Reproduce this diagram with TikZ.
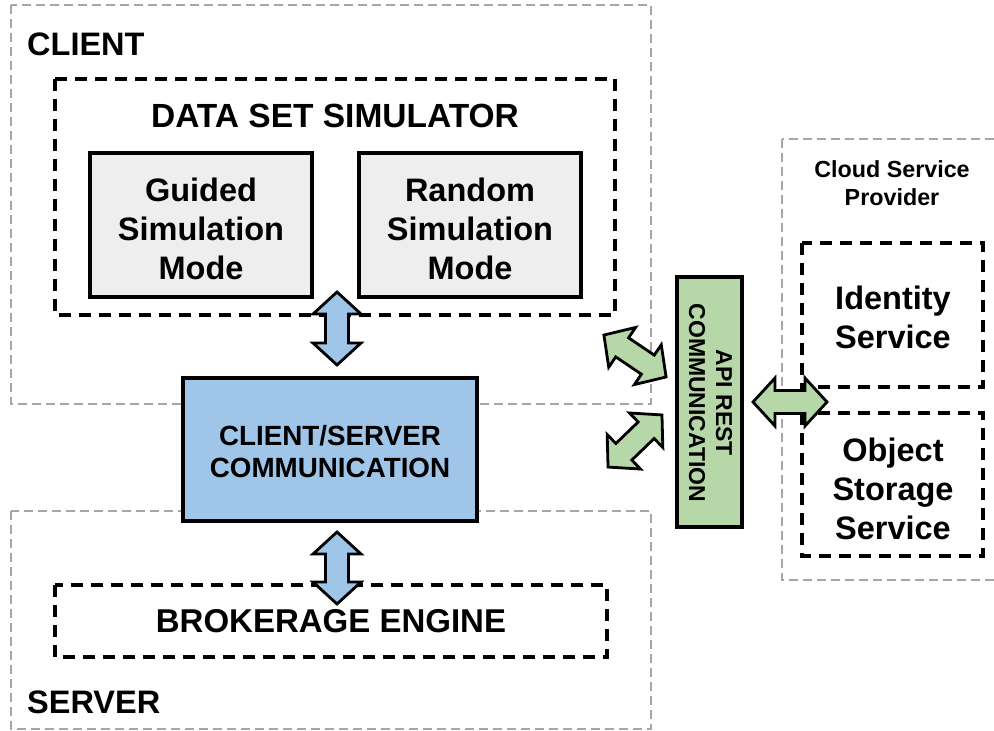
\documentclass[tikz,border=0pt]{standalone}
\usepackage{fontspec}
\setmainfont{Liberation Sans}
\begin{document}
\begin{tikzpicture}[x=1pt,y=-1pt,
  region/.style={draw=gray!70,line width=1.4pt,dash pattern=on 9pt off 5pt},
  group/.style={draw=black,line width=3.2pt,dash pattern=on 12pt off 8pt},
  solidbox/.style={draw=black,line width=3.2pt},
  lbl/.style={inner sep=0pt,align=center,font=\bfseries\fontsize{32.5}{39}\selectfont},
  blk/.style={draw=black,line width=2.8pt,line join=miter,fill=#1},
  blk/.default={blueA}]
\definecolor{blueA}{HTML}{9FC5E8}
\definecolor{greenA}{HTML}{B6D7A8}
\definecolor{grayA}{HTML}{EEEEEE}
\newcommand\blockarrow[4]{%
  \begin{scope}[shift={#2},rotate=#3]
    \draw[blk=#1] (-#4,0) -- (-#4+22,24) -- (-#4+22,11.5) -- (#4-22,11.5) -- (#4-22,24) -- (#4,0)
      -- (#4-22,-24) -- (#4-22,-11.5) -- (-#4+22,-11.5) -- (-#4+22,-24) -- cycle;
  \end{scope}}
\useasboundingbox (0,0) rectangle (994,731);
% regions
\draw[region] (11,5) rectangle (651,404);
\draw[region] (11,511) rectangle (651,729);
\draw[region] (782,139) rectangle (1000,580);
\node[lbl,anchor=base west] (client) at (27,55) {CLIENT};
\node[lbl,anchor=base west] (server) at (27,713) {SERVER};
\node[lbl,font=\bfseries\fontsize{23.3}{28}\selectfont] (csp) at (892,183) {Cloud Service\\Provider};
% data set simulator
\draw[group] (55,79) rectangle (615,315);
\node[lbl,font=\bfseries\fontsize{33.5}{39}\selectfont] (dss) at (335,116) {DATA SET SIMULATOR};
\node[solidbox,fill=grayA,minimum width=222pt,minimum height=144pt,inner sep=0pt] (guided) at (201,225) {};
\node[lbl] at (201,229) {Guided\\Simulation\\Mode};
\node[solidbox,fill=grayA,minimum width=222pt,minimum height=144pt,inner sep=0pt] (random) at (470,225) {};
\node[lbl] at (470,229) {Random\\Simulation\\Mode};
% brokerage
\draw[group] (55,585) rectangle (607,657);
\node[lbl,font=\bfseries\fontsize{33}{39}\selectfont] (broker) at (331,621) {BROKERAGE ENGINE};
% client/server
\node[solidbox,fill=blueA,minimum width=294pt,minimum height=143pt,inner sep=0pt] (cs) at (330,449.5) {};
\node[lbl,font=\bfseries\fontsize{27.8}{32}\selectfont] at (330,452) {CLIENT/SERVER\\COMMUNICATION};
% API REST
\node[solidbox,fill=greenA,minimum width=65pt,minimum height=250pt,inner sep=0pt] (api) at (709.5,402) {};
\node[lbl,rotate=-90,font=\bfseries\fontsize{23}{27}\selectfont] at (710.5,403) {API REST\\COMMUNICATION};
% cloud services
\draw[group] (802,243) rectangle (983,387);
\node[lbl] (identity) at (893,317) {Identity\\Service};
\draw[group] (802,413) rectangle (983,556);
\node[lbl] (object) at (893,489) {Object\\Storage\\Service};
% block arrows
\blockarrow{blueA}{(337,328.5)}{90}{36.5}
\blockarrow{blueA}{(337,568)}{90}{36}
\blockarrow{greenA}{(635,356)}{-34}{37.5}
\blockarrow{greenA}{(635,441)}{44}{37.5}
\blockarrow{greenA}{(790,402)}{0}{37}
\end{tikzpicture}
\end{document}
